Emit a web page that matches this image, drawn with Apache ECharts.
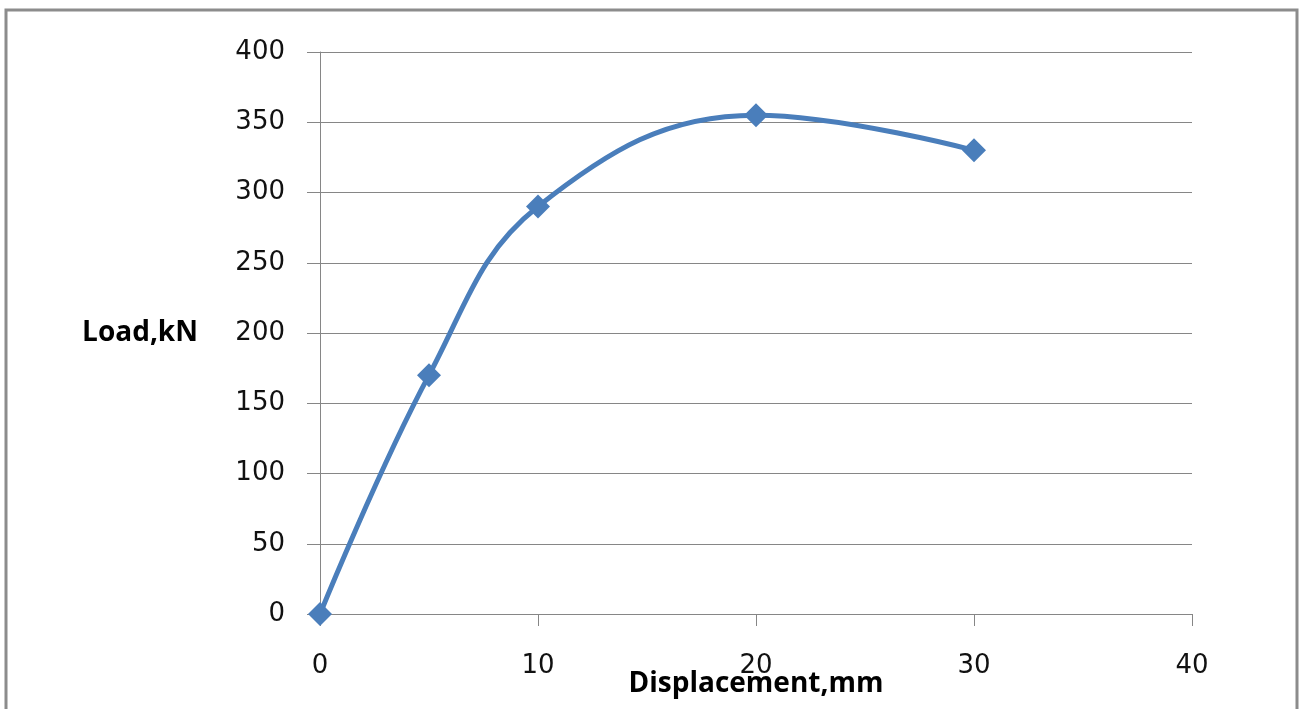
<!DOCTYPE html>
<html>
<head>
<meta charset="utf-8">
<script src="https://cdn.jsdelivr.net/npm/echarts@6/dist/echarts.min.js"></script>
<style>
  html, body { margin: 0; padding: 0; background: #fff; }
  #chart { width: 1301px; height: 709px; }
</style>
</head>
<body>
<div id="chart"></div>
<script>
  // values
  const displacement = [0, 5, 10, 20, 30];
  const load = [0, 170, 290, 355, 330];
  const xTitle = "Displacement,mm";
  const yTitle = "Load,kN";

  let chartDom = document.getElementById("chart");
  let myChart = echarts.init(chartDom);

  const tickFont = { fontFamily: "DejaVu Sans", fontSize: 26, color: "#111" };
  const nameFont = { fontFamily: "Open Sans", fontWeight: "bold", fontSize: 28, color: "#000" };

  let option = {
    animation: false,
    backgroundColor: "#fff",
    graphic: [
      {
        type: "rect",
        shape: { x: 6, y: 10, width: 1291, height: 720 },
        style: { fill: "none", stroke: "#8c8c8c", lineWidth: 3 },
        z: -1,
      },
      {
        // x axis title sits closer to the tick labels than axis.name allows
        type: "text",
        x: 756,
        y: 684,
        style: Object.assign({ text: xTitle, align: "center", verticalAlign: "middle" }, {
          fontFamily: nameFont.fontFamily,
          fontWeight: nameFont.fontWeight,
          fontSize: nameFont.fontSize,
          fill: nameFont.color,
        }),
      },
    ],
    grid: { left: 320, right: 109, top: 52, bottom: 95, outerBoundsMode: "none", containLabel: false },
    xAxis: {
      type: "value",
      min: 0,
      max: 40,
      interval: 10,
      axisLine: { lineStyle: { color: "#868686", width: 1 } },
      axisTick: { show: true, length: 12, lineStyle: { color: "#868686" } },
      axisLabel: Object.assign({ margin: 39 }, tickFont),
      splitLine: { show: false },
    },
    yAxis: {
      type: "value",
      min: 0,
      max: 400,
      interval: 50,
      name: yTitle,
      nameLocation: "middle",
      nameRotate: 0,
      nameGap: 122,
      nameTextStyle: nameFont,
      axisLine: { show: true, lineStyle: { color: "#868686", width: 1 } },
      axisTick: { show: true, length: 13, lineStyle: { color: "#868686" } },
      axisLabel: Object.assign({ margin: 35 }, tickFont),
      splitLine: { show: true, lineStyle: { color: "#868686", width: 1 } },
    },
    series: [
      {
        type: "line",
        data: displacement.map((x, i) => [x, load[i]]),
        smooth: 0.4,
        symbol: "diamond",
        symbolSize: 24,
        lineStyle: { color: "#4A7EBB", width: 5 },
        itemStyle: { color: "#4A7EBB" },
      },
    ],
  };

  option && myChart.setOption(option);
</script>
</body>
</html>
